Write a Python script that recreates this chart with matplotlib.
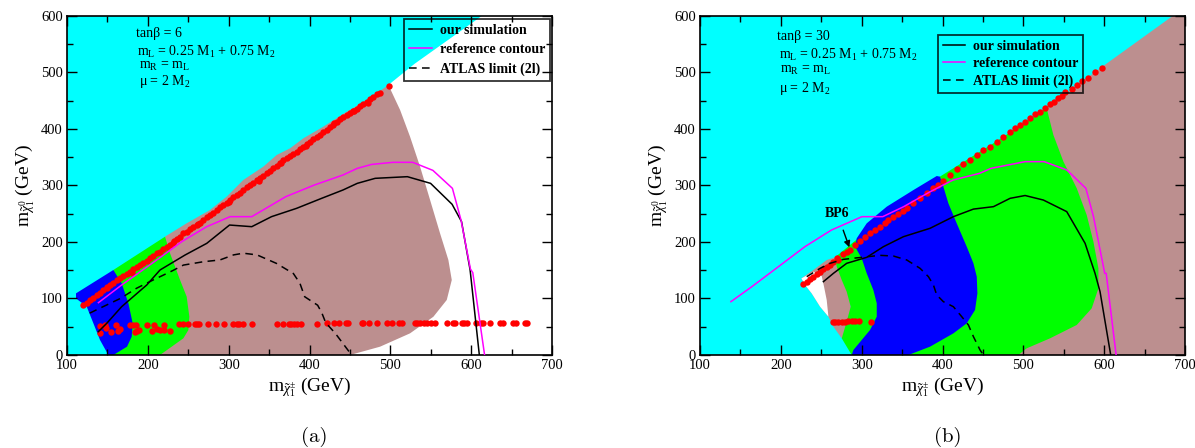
import matplotlib
matplotlib.use('Agg')
import matplotlib.pyplot as plt
from matplotlib.ticker import MultipleLocator

plt.rcParams['font.family'] = ['Liberation Serif', 'DejaVu Serif']
plt.rcParams['mathtext.fontset'] = 'custom'
plt.rcParams['mathtext.rm'] = 'Liberation Serif'
plt.rcParams['mathtext.it'] = 'Liberation Serif:italic'
plt.rcParams['mathtext.bf'] = 'Liberation Serif:bold'

CYAN, BROWN, GREEN, BLUE = '#00FFFF', '#BC8F8F', '#00FF00', '#0000FF'

# ---------------- panel (a): tan(beta) = 6 ----------------
a_white = [(497.5, 477.4), (530, 515), (613.5, 600), (700, 600), (700, 0), (450, 0)]
a_brown = [(221.2, 209.3), (248, 232.9), (276.9, 256.4), (297.5, 280), (318.1, 309.5),
           (342.9, 333.1), (359.4, 353.7), (375.9, 365.5), (392.4, 383.2), (417.1, 403.8),
           (446, 430.3), (474.8, 453.9), (497.5, 477.5), (512, 433.2), (524.3, 386),
           (536.7, 333), (549.1, 274), (561.4, 215.2), (571.7, 168), (575.9, 132.6),
           (569.7, 97.3), (553.2, 67.7), (524.3, 38.3), (487.2, 14.7), (450, 0),
           (215, 0), (225, 100)]
a_green = [(157.3, 150.3), (221.2, 209.2), (227.4, 179.8), (239.8, 132.6), (248, 103.1),
           (251.3, 67.7), (250.1, 44.2), (243.9, 29.5), (215, 0), (157.3, 0), (165, 25),
           (170, 60), (165, 100)]
a_blue = [(111.1, 109), (157.3, 150.3), (167.6, 126.7), (175.9, 91.4), (181.2, 56),
          (180, 32.4), (174.2, 14.7), (157.3, 0), (151.1, 0), (140.8, 26.5), (132.6, 56),
          (124.3, 85.7), (111.1, 100)]

a_diag = [(119.4, 88.5), (124.3, 92.6), (128.5, 97.3), (132.6, 100.2), (136.7, 106.1),
          (140.8, 109.1), (144.9, 115.0), (149.1, 117.9), (150.0, 121.0), (153.2, 123.8),
          (157.3, 127.9), (161.4, 132.7), (165.6, 135.6), (169.7, 139.7), (173.8, 143.3),
          (177.9, 147.4), (180.0, 145.0), (182.1, 151.5), (186.2, 155.1), (190.3, 159.2),
          (194.4, 163.3), (198.6, 166.8), (202.7, 171.0), (206.8, 175.1), (210.9, 179.8),
          (215.1, 182.8), (219.2, 186.9), (223.3, 191.6), (227.4, 194.5), (231.5, 198.7),
          (232.0, 202.0), (235.7, 204.6), (239.8, 209.3), (243.9, 215.2), (248.0, 218.1),
          (252.2, 222.2), (256.3, 227.0), (260.4, 229.9), (262.0, 232.0), (264.5, 234.1),
          (268.7, 238.7), (272.8, 243.5), (276.9, 247.6), (281.0, 251.7), (285.2, 256.4),
          (289.3, 261.2), (293.4, 265.3), (297.5, 269.4), (300.0, 270.0), (301.6, 274.1),
          (305.8, 278.8), (309.9, 283.0), (314.0, 287.1), (318.1, 291.8), (322.3, 296.5),
          (326.4, 300.6), (330.5, 304.8), (334.6, 309.5), (338.0, 308.0), (338.8, 312.4),
          (342.9, 316.6), (347.0, 321.3), (351.1, 326.0), (355.3, 330.1), (359.4, 334.2),
          (363.5, 338.9), (365.0, 340.0), (367.6, 344.8), (371.8, 347.8), (375.9, 351.9),
          (380.0, 355.5), (384.1, 359.6), (388.2, 363.7), (392.4, 368.5), (395.0, 369.0),
          (396.5, 373.1), (400.6, 377.3), (404.7, 381.4), (408.9, 386.1), (413.0, 389.1),
          (417.1, 394.9), (421.2, 397.9), (425.4, 403.8), (429.5, 406.7), (430.0, 410.0),
          (433.6, 412.6), (437.7, 416.8), (441.8, 420.3), (446.0, 424.4), (450.1, 427.4),
          (454.2, 432.1), (455.0, 431.0), (458.3, 434.4), (462.5, 440.3), (466.6, 443.9),
          (470.7, 448.0), (472.0, 446.0), (474.8, 452.1), (479.0, 456.8), (483.1, 461.5),
          (487.2, 463.9), (498.8, 475.7)]
a_row = [(140.8, 51.3), (147.0, 53.0), (148.2, 47.2), (140.8, 39.5), (154.0, 40.7),
         (160.6, 52.5), (163.5, 43.0), (165.6, 46.6), (178.0, 53.0), (182.0, 53.0),
         (185.4, 53.0), (186.2, 43.0), (189.5, 44.2), (184.1, 40.7), (199.4, 53.0),
         (207.6, 53.0), (204.7, 43.0), (211.7, 45.4), (215.0, 44.2), (220.0, 53.0),
         (220.0, 44.2), (227.4, 43.0), (238.6, 54.2), (243.9, 54.2), (249.3, 54.2),
         (258.3, 54.2), (261.2, 54.2), (263.7, 54.2), (274.8, 54.2), (283.9, 54.2),
         (294.2, 54.2), (305.0, 54.2), (309.9, 54.2), (313.2, 54.2), (317.3, 54.2),
         (328.5, 54.2), (359.4, 54.8), (367.6, 54.8), (374.2, 54.8), (377.5, 54.8),
         (380.8, 54.8), (384.1, 54.8), (389.5, 54.8), (409.7, 55.5), (421.2, 56.0),
         (430.3, 56.0), (436.9, 57.2), (445.1, 56.0), (448.0, 56.0), (464.5, 56.0),
         (466.6, 56.0), (474.0, 56.0), (483.1, 56.0), (495.4, 56.0), (501.6, 56.0),
         (511.1, 57.2), (514.0, 57.2), (530.5, 56.0), (533.4, 57.2), (536.7, 56.0),
         (541.6, 56.0), (544.9, 56.0), (549.9, 56.0), (555.2, 56.0), (570.5, 56.0),
         (577.1, 56.0), (580.0, 57.2), (588.2, 56.0), (591.1, 56.0), (595.2, 56.0),
         (606.0, 56.0), (611.7, 56.0), (615.0, 56.0), (623.3, 56.0), (635.7, 56.0),
         (639.0, 56.0), (652.1, 56.0), (655.4, 56.0), (666.6, 56.0), (668.6, 56.0)]

a_sim = [(138.8, 41.3), (149.1, 56), (167.6, 85.5), (198.6, 123.8), (215, 150.3),
         (246, 176.8), (272.8, 197.4), (301, 229.8), (328.5, 226.9), (352.9, 244.6),
         (383.9, 259.3), (414.9, 277), (441.4, 291.8), (459, 303.5), (481.2, 312.4),
         (521, 315.3), (549.7, 303.5), (576.3, 266.5), (588, 235.8), (598.6, 150.3),
         (610, 0)]
a_ref = [(138.8, 92.5), (167.6, 123.8), (210.9, 168), (241.8, 200.4), (272.8, 226.9),
         (301.7, 244.6), (328.5, 244.6), (370.6, 280), (406, 300.6), (441.4, 318.3),
         (459, 330), (476.8, 337), (503.3, 340.7), (527.6, 340.7), (552.5, 326.5),
         (576.7, 294.7), (587.3, 238.7), (599, 152), (601.9, 145.6), (616.5, 0)]
a_atlas = [(128, 74), (141, 83), (166, 100), (186, 118), (207, 133), (229, 148),
           (244, 159), (269, 165), (289, 168), (306, 177), (318, 180), (335, 177),
           (359, 162), (380, 144), (388, 127), (394, 103), (410, 88), (415, 75),
           (420, 57), (432, 38), (452, 0)]

# ---------------- panel (b): tan(beta) = 30 ----------------
b_brown = [(528.8, 436.2), (594.8, 506.9), (683.5, 598.3), (686, 600), (700, 600),
           (700, 0), (490, 0)]
b_brown_small = [(225.4, 135.5), (240.2, 150.3), (256.7, 168), (267, 172.7), (275, 160),
                 (285, 110), (288, 60), (275.3, 29.4), (265, 50), (258.8, 67.8),
                 (248.5, 85.4), (238.1, 109), (229.9, 123.8)]
b_white = [(225.4, 135.5), (240.2, 147.3), (250.5, 139.7), (253.4, 120.8), (256.7, 97.2),
           (258.8, 67.8), (248.5, 85.4), (238.1, 109), (229.9, 123.8)]
b_green = [(287.6, 0), (275.3, 29.4), (281.4, 58.9), (286.4, 85.4), (281.4, 112),
           (275.3, 132.6), (269.1, 156.2), (267, 172.7), (291.8, 202), (396.6, 315.3),
           (462.9, 374.3), (528.8, 436.2), (537.1, 389), (549.5, 341.9), (566, 294.7),
           (578.3, 247.6), (586.6, 200.4), (592.8, 153.2), (592.8, 117.9), (584.5, 82.5),
           (566, 53.1), (533, 29.5), (504.1, 11.8), (493.8, 0)]
b_blue = [(287.6, 0), (289.7, 8.8), (300, 26.5), (310.3, 44.2), (318.6, 67.8),
          (318.6, 91.4), (314.4, 114.9), (306.2, 144.4), (300, 170.9), (291.8, 191.5),
          (293.8, 206.3), (306.2, 232.8), (331, 262.3), (364, 291.7), (392.8, 316.5),
          (396.9, 315.3), (401, 297.6), (407.2, 268.2), (417.5, 232.8), (429.9, 191.5),
          (438.2, 162.1), (442.3, 138.5), (443.1, 109), (440.2, 79.6), (429.9, 56),
          (413.4, 38.3), (384.5, 14.7), (357.7, 0)]

b_diag = [(227.8, 125.5), (232.0, 129.7), (236.1, 133.8), (240.2, 138.5), (244.3, 143.2),
          (248.5, 147.3), (252.6, 151.5), (256.7, 156.2), (260.8, 159.7), (265.0, 163.8),
          (269.9, 170.9), (271.1, 168.0), (277.3, 178.6), (281.4, 182.7), (285.6, 185.6),
          (291.8, 194.5), (298.0, 202.1), (304.1, 209.2), (310.3, 215.1), (316.5, 221.0),
          (322.7, 226.9), (328.9, 232.8), (333.0, 238.7), (339.2, 244.6), (345.4, 249.3),
          (351.6, 255.2), (355.6, 259.3), (363.9, 268.2), (372.1, 277.0), (380.4, 285.9),
          (388.6, 294.7), (394.8, 300.6), (401.0, 307.7), (409.3, 318.3), (417.5, 328.9),
          (425.8, 337.2), (434.0, 344.8), (442.2, 353.6), (450.5, 362.5), (458.7, 368.4),
          (467.0, 377.2), (475.2, 386.1), (483.5, 393.7), (489.7, 400.8), (495.9, 406.7),
          (502.0, 411.4), (508.2, 418.5), (514.4, 425.6), (520.6, 430.3), (526.8, 437.3),
          (533.0, 443.2), (537.9, 448.0), (543.3, 453.8), (547.4, 458.6), (551.5, 464.5),
          (559.8, 470.3), (566.0, 477.4), (572.1, 484.5), (580.4, 490.4), (588.6, 501.0),
          (596.9, 508.1)]
b_row = [(265.0, 58.3), (267.0, 57.7), (271.1, 58.3), (275.3, 58.9), (279.4, 58.9),
         (283.5, 59.4), (287.6, 59.4), (291.8, 59.4), (297.1, 59.4), (311.1, 58.9)]

b_sim = [(252.6, 129.7), (265, 144.4), (281.4, 162.1), (306.2, 172.7), (326.8, 191.5),
         (351.6, 209.2), (384.5, 224), (413.4, 244.6), (438.2, 258), (463, 262.3),
         (483.5, 277), (502.1, 282), (524.7, 274), (553.6, 253.5), (576.3, 197.5),
         (588.6, 144.4), (594.8, 112), (608, 0)]
b_ref = [(138.2, 94.3), (164.1, 120.8), (197, 156.2), (229.8, 191.6), (262.6, 221),
         (300.3, 244.6), (326, 244.6), (351.9, 262.3), (384.8, 288.8), (412.9, 309.4),
         (445.8, 321.2), (459.9, 330), (502.1, 341.9), (525.6, 341.9), (553.8, 327.1),
         (577.3, 294.7), (586.7, 244.6), (600.6, 144.4), (602.4, 144.4), (614.7, 0)]
b_atlas = [(232, 138.5), (248.5, 153.2), (260.8, 162.1), (277.3, 169.1), (300, 172.7),
           (322.7, 176.2), (339.2, 175), (355.7, 168), (372.2, 153.2), (382.5, 138.5),
           (388.7, 123.8), (392.8, 106.1), (401, 94.3), (413.4, 85.4), (423.7, 67.8),
           (432, 53), (438.2, 32.4), (446.4, 8.8), (450.5, 0)]

labels = ['our simulation', 'reference contour', 'ATLAS limit (2l)']
a_params = ['tanβ = 6', 'm$_\\mathrm{L}$ = 0.25 M$_\\mathrm{1}$ + 0.75 M$_\\mathrm{2}$',
            'm$_\\mathrm{R}$ = m$_\\mathrm{L}$', 'μ = 2 M$_\\mathrm{2}$']
b_params = ['tanβ = 30', 'm$_\\mathrm{L}$ = 0.25 M$_\\mathrm{1}$ + 0.75 M$_\\mathrm{2}$',
            'm$_\\mathrm{R}$ = m$_\\mathrm{L}$', 'μ = 2 M$_\\mathrm{2}$']


def fill(ax, pts, color):
    xs, ys = zip(*pts)
    ax.fill(xs, ys, color=color, lw=0, zorder=1)


def dots(ax, pts):
    xs, ys = zip(*pts)
    ax.plot(xs, ys, 'o', color='#FF0000', ms=4.6, mew=0, zorder=3)


def curve(ax, pts, **kw):
    xs, ys = zip(*pts)
    return ax.plot(xs, ys, zorder=4, **kw)[0]


def setup_axes(ax):
    ax.set_facecolor(CYAN)
    ax.set_xlim(100, 700)
    ax.set_ylim(0, 600)
    ax.xaxis.set_major_locator(MultipleLocator(100))
    ax.xaxis.set_minor_locator(MultipleLocator(50))
    ax.yaxis.set_major_locator(MultipleLocator(100))
    ax.yaxis.set_minor_locator(MultipleLocator(50))
    ax.tick_params(which='both', direction='in', top=True, right=True, labelsize=10.5, width=1)
    ax.tick_params(which='major', length=7, pad=3)
    ax.tick_params(which='minor', length=4)
    for sp in ax.spines.values():
        sp.set_linewidth(1.2)
    ax.set_xlabel(r'$\mathrm{m}_{\tilde{\chi}_1^{\pm}}$ (GeV)', fontsize=14, labelpad=2)
    ax.set_ylabel(r'$\mathrm{m}_{\tilde{\chi}_1^{0}}$ (GeV)', fontsize=14, labelpad=3)


def draw_lines(ax, sim, ref, atlas):
    h1 = curve(ax, sim, color='black', lw=1.1)
    h2 = curve(ax, ref, color='#FF00FF', lw=1.1)
    h3 = curve(ax, atlas, color='black', lw=1.1, ls=(0, (5, 3.5)))
    return [h1, h2, h3]


def add_params(ax, lines, xs, ys):
    for t, x, y in zip(lines, xs, ys):
        ax.text(x, y, t, transform=ax.transAxes, fontsize=10, ha='left', va='center')


def add_legend(ax, handles, loc, anchor, spacing):
    leg = ax.legend(handles, labels, loc=loc, bbox_to_anchor=anchor, borderaxespad=0,
                    prop={'weight': 'bold', 'size': 10}, fancybox=False, edgecolor='black',
                    handlelength=1.6, handletextpad=0.6, borderpad=0.35,
                    labelspacing=spacing)
    leg.get_frame().set_facecolor('none')
    leg.get_frame().set_linewidth(1.3)
    leg.set_zorder(6)


fig = plt.figure(figsize=(11.95, 4.48), dpi=100)
ax1 = fig.add_axes([0.0561, 0.2076, 0.4059, 0.7574])
ax2 = fig.add_axes([0.5858, 0.2076, 0.4059, 0.7574])

# panel (a)
setup_axes(ax1)
fill(ax1, a_white, 'white')
fill(ax1, a_brown, BROWN)
fill(ax1, a_green, GREEN)
fill(ax1, a_blue, BLUE)
dots(ax1, a_diag)
dots(ax1, a_row)
hs = draw_lines(ax1, a_sim, a_ref, a_atlas)
add_params(ax1, a_params, [0.142, 0.145, 0.148, 0.148], [0.948, 0.894, 0.85, 0.805])
add_legend(ax1, hs, 'upper right', (0.996, 0.99), 0.45)

# panel (b)
setup_axes(ax2)
fill(ax2, b_brown, BROWN)
fill(ax2, b_brown_small, BROWN)
fill(ax2, b_white, 'white')
fill(ax2, b_green, GREEN)
fill(ax2, b_blue, BLUE)
dots(ax2, b_diag)
dots(ax2, b_row)
hs = draw_lines(ax2, b_sim, b_ref, b_atlas)
add_params(ax2, b_params, [0.158, 0.162, 0.164, 0.162], [0.938, 0.884, 0.838, 0.786])
add_legend(ax2, hs, 'upper left', (0.49, 0.943), 0.3)
ax2.annotate('BP6', xy=(284.7, 190.4), xytext=(269.5, 251), fontsize=10, fontweight='bold',
             ha='center', va='center', zorder=7,
             arrowprops=dict(arrowstyle='-|>', color='black', lw=1, mutation_scale=9,
                             shrinkA=6, shrinkB=0))

fig.text(314 / 1195, 1 - 437 / 448, '(a)', ha='center', va='center', fontsize=15, family='cmr10')
fig.text(948 / 1195, 1 - 437 / 448, '(b)', ha='center', va='center', fontsize=15, family='cmr10')

fig.savefig('out.png', dpi=100)
